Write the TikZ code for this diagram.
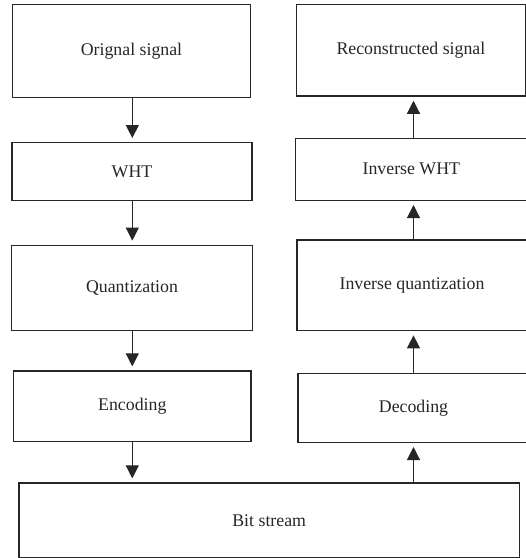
\documentclass[tikz,border=0pt]{standalone}
\usepackage{fontspec}
\setmainfont{Liberation Serif}
\usetikzlibrary{arrows.meta}
\begin{document}
\begin{tikzpicture}[x=1pt,y=-1pt,
  box/.style={draw=black!85,line width=1.4pt,rectangle,inner sep=0pt,
    font=\fontsize{17.8}{20}\selectfont,text=black!85},
  arr/.style={line width=1.1pt,draw=black!85,shorten >=4pt,
    -{Triangle[width=13pt,length=13pt]},fill=black!85}]
\useasboundingbox (0,0) rectangle (526,558);
\clip (0,0) rectangle (526,558);
\coordinate (xl) at (132.3,0);
\coordinate (xr) at (413.5,0);
% left column
\node[box,minimum width=238.4pt,minimum height=92.6pt] (orig) at (131.5,51) {Orignal signal};
\node[box,minimum width=240pt,minimum height=57.6pt] (wht) at (132,171.5) {WHT};
\node[box,minimum width=240.6pt,minimum height=85.4pt] (quant) at (132,288) {Quantization};
\node[box,minimum width=237.3pt,minimum height=70.3pt] (enc) at (132.3,406.2) {Encoding};
% bottom
\node[box,minimum width=500.3pt,minimum height=74.3pt] (bit) at (269.2,520.2) {Bit stream};
% right column
\node[box,minimum width=229.2pt,minimum height=91.3pt] (recon) at (410.9,50.4) {Reconstructed signal};
\node[box,minimum width=231.3pt,minimum height=62pt] (iwht) at (411.3,169.3) {Inverse WHT};
\node[box,minimum width=230pt,minimum height=90.7pt] (iquant) at (412,285.3) {Inverse quantization};
\node[box,minimum width=231pt,minimum height=69pt] (dec) at (413.5,407.8) {Decoding};
% arrows
\draw[arr] (orig.south -| xl) -- (wht.north -| xl);
\draw[arr] (wht.south -| xl) -- (quant.north -| xl);
\draw[arr] (quant.south -| xl) -- (enc.north -| xl);
\draw[arr] (enc.south -| xl) -- (bit.north -| xl);
\draw[arr] (bit.north -| xr) -- (dec.south -| xr);
\draw[arr] (dec.north -| xr) -- (iquant.south -| xr);
\draw[arr] (iquant.north -| xr) -- (iwht.south -| xr);
\draw[arr] (iwht.north -| xr) -- (recon.south -| xr);
\end{tikzpicture}
\end{document}
